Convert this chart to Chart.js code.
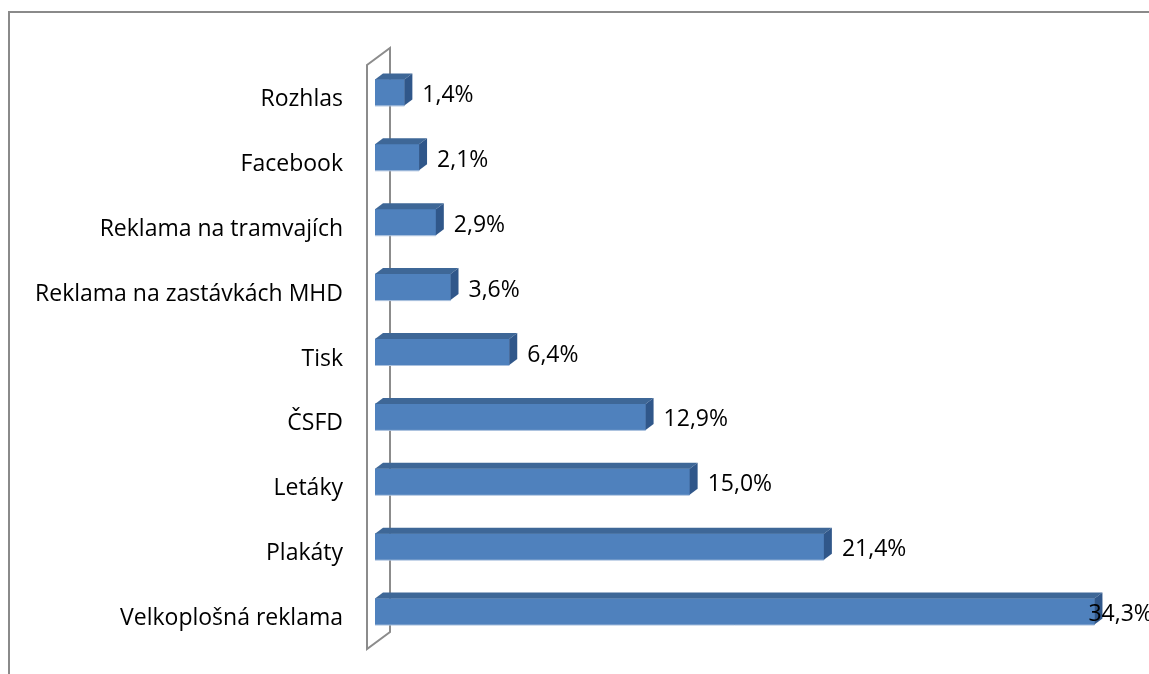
<!DOCTYPE html>
<html lang="cs">
<head>
<meta charset="utf-8">
<title>Zdroje informací</title>
<script src="https://cdn.jsdelivr.net/npm/chart.js@4.4.1/dist/chart.umd.min.js"></script>
<style>
    html, body { margin: 0; padding: 0; background: #fff; overflow: hidden; }
    #wrap { position: relative; width: 1149px; height: 674px; }
    #frame {
        position: absolute; left: 8px; top: 11px; width: 1200px; height: 700px;
        border-left: 2px solid #8a8a8a; border-top: 2px solid #8a8a8a;
        pointer-events: none;
    }
</style>
</head>
<body>
<div id="wrap">
    <div id="frame"></div>
    <canvas id="chart" width="1149" height="674"></canvas>
</div>
<script>
// Kategorie shora dolů a jejich podíly v procentech
const categories = [
    'Rozhlas',
    'Facebook',
    'Reklama na tramvajích',
    'Reklama na zastávkách MHD',
    'Tisk',
    'ČSFD',
    'Letáky',
    'Plakáty',
    'Velkoplošná reklama'
];
const shares = [1.4, 2.1, 2.9, 3.6, 6.4, 12.9, 15.0, 21.4, 34.3];

const FONT = '"Open Sans", "Noto Sans", sans-serif';
const DEPTH_X = 8;
const DEPTH_Y = 6;

function formatPct(v) {
    return v.toFixed(1).replace('.', ',') + '%';
}

// stěna za osou kategorií (drátový rámeček)
const wallPlugin = {
    id: 'wall',
    beforeDatasetsDraw(chart) {
        const { ctx, chartArea } = chart;
        const l = chartArea.left;
        ctx.save();
        ctx.strokeStyle = '#8c8c8c';
        ctx.lineWidth = 2;
        ctx.beginPath();
        ctx.moveTo(l - 8, chartArea.top + 5);
        ctx.lineTo(l + 15, chartArea.top - 12);
        ctx.lineTo(l + 15, chartArea.bottom - 12);
        ctx.lineTo(l - 8, chartArea.bottom + 5);
        ctx.closePath();
        ctx.stroke();
        ctx.restore();
    }
};

// horní a boční stěna sloupců + popisky hodnot
const bar3dPlugin = {
    id: 'bar3d',
    afterDatasetsDraw(chart) {
        const { ctx } = chart;
        const meta = chart.getDatasetMeta(0);
        ctx.save();
        meta.data.forEach((bar, i) => {
            const p = bar.getProps(['x', 'y', 'base', 'height'], true);
            const top = p.y - p.height / 2;
            const bottom = p.y + p.height / 2;

            // horní plocha
            ctx.fillStyle = '#3e6797';
            ctx.beginPath();
            ctx.moveTo(p.base, top);
            ctx.lineTo(p.base + DEPTH_X, top - DEPTH_Y);
            ctx.lineTo(p.x + DEPTH_X, top - DEPTH_Y);
            ctx.lineTo(p.x, top);
            ctx.closePath();
            ctx.fill();

            // boční plocha
            ctx.fillStyle = '#30578a';
            ctx.beginPath();
            ctx.moveTo(p.x, top);
            ctx.lineTo(p.x + DEPTH_X, top - DEPTH_Y);
            ctx.lineTo(p.x + DEPTH_X, bottom - DEPTH_Y);
            ctx.lineTo(p.x, bottom);
            ctx.closePath();
            ctx.fill();

            // světlá spodní hrana
            ctx.strokeStyle = '#a9c0de';
            ctx.lineWidth = 1;
            ctx.beginPath();
            ctx.moveTo(p.base, bottom + 0.5);
            ctx.lineTo(p.x, bottom + 0.5);
            ctx.stroke();

            // popisek hodnoty
            const text = formatPct(shares[i]);
            ctx.font = '23px ' + FONT;
            ctx.fillStyle = '#000';
            ctx.textAlign = 'left';
            ctx.textBaseline = 'middle';
            const w = ctx.measureText(text).width;
            let tx = p.x + DEPTH_X + 10;
            if (tx + w > chart.width + 4) tx = p.x - 6;
            ctx.fillText(text, tx, p.y + 3);
        });
        ctx.restore();
    }
};

new Chart(document.getElementById('chart'), {
    type: 'bar',
    data: {
        labels: categories,
        datasets: [{
            data: shares,
            backgroundColor: '#4f81bd',
            borderWidth: 0,
            barThickness: 26
        }]
    },
    options: {
        indexAxis: 'y',
        responsive: false,
        animation: false,
        layout: { padding: { top: 60, bottom: 30, left: 0, right: 0 } },
        plugins: {
            legend: { display: false },
            tooltip: { enabled: false }
        },
        scales: {
            x: {
                display: false,
                min: 0,
                max: 36.9
            },
            y: {
                grid: { display: false, drawTicks: false },
                border: { display: false },
                afterFit: (scale) => {
                    scale.width = 375;
                    scale.paddingTop = 0;
                    scale.paddingBottom = 0;
                },
                ticks: {
                    color: '#000',
                    padding: 32,
                    labelOffset: 7,
                    font: { family: FONT, size: 23 }
                }
            }
        }
    },
    plugins: [wallPlugin, bar3dPlugin]
});
</script>
</body>
</html>
